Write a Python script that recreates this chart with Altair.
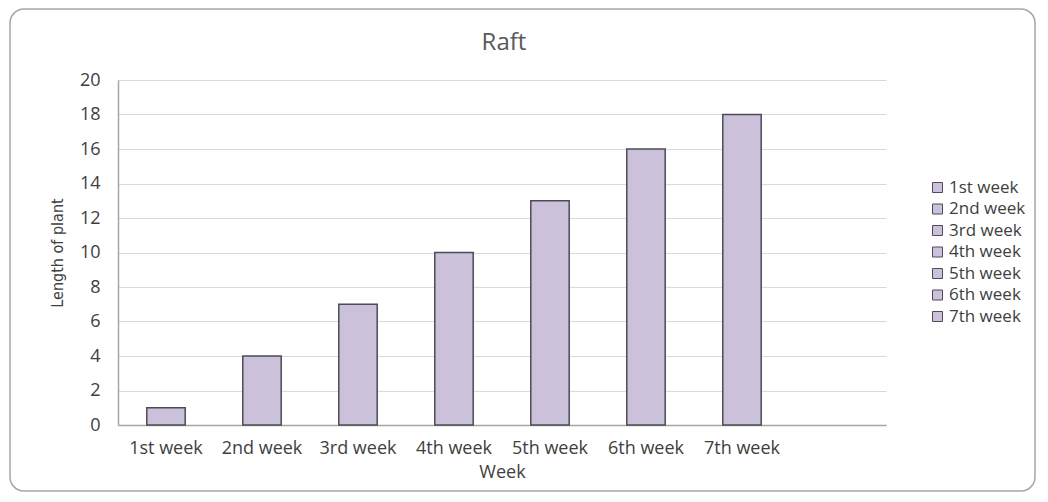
import altair as alt
import pandas as pd

weeks = ["1st week", "2nd week", "3rd week", "4th week", "5th week", "6th week", "7th week"]
lengths = [1, 4, 7, 10, 13, 16, 18]
x_domain = weeks + [" "]
y_ticks = [0, 2, 4, 6, 8, 10, 12, 14, 16, 18, 20]
chart_title = "Raft"

df = pd.DataFrame({"Week": weeks, "Length": lengths})

FONT = "Open Sans"
NARROW = "Liberation Sans Narrow, DejaVu Sans Condensed, Roboto Condensed, Roboto, sans-serif"
BAR_FILL = "#ccc1da"
BAR_STROKE = "#4b4b58"

frame = alt.Chart(alt.Data(values=[{}])).mark_rect(
    fill="white", fillOpacity=0, stroke="#a6a6a6", strokeWidth=1.5, cornerRadius=14
).encode(
    x=alt.value(-108), x2=alt.value(917), y=alt.value(-71), y2=alt.value(411)
)

title = alt.Chart(alt.Data(values=[{"t": chart_title}])).mark_text(
    font=FONT, fontSize=24, color="#595959", align="center", baseline="alphabetic"
).encode(
    text="t:N", x=alt.value(386), y=alt.value(-30)
)

bars = alt.Chart(df).mark_bar(stroke=BAR_STROKE, strokeWidth=1.5).encode(
    x=alt.X("Week:N", sort=x_domain,
            scale=alt.Scale(domain=x_domain, paddingInner=0.6, paddingOuter=0.3),
            axis=alt.Axis(title="Week", labelAngle=0, ticks=False, grid=False,
                          labelExpr="datum.value == ' ' ? '' : datum.label",
                          labelPadding=14, titlePadding=6)),
    y=alt.Y("Length:Q", scale=alt.Scale(domain=[0, 20], nice=False),
            axis=alt.Axis(title="Length of plant", values=y_ticks, ticks=False,
                          labelPadding=18, titlePadding=14,
                          titleFont=NARROW, titleFontSize=16,
                          titleFontWeight="normal")),
    color=alt.Color("Week:N", sort=weeks,
                    scale=alt.Scale(domain=weeks, range=[BAR_FILL] * 7),
                    legend=alt.Legend(title=None, orient="none", legendX=811, legendY=99,
                                      symbolType="square", symbolSize=100,
                                      symbolStrokeColor=BAR_STROKE, symbolStrokeWidth=1,
                                      symbolFillColor=BAR_FILL,
                                      labelFont=FONT, labelFontSize=17, labelColor="#404040",
                                      rowPadding=3.5, labelOffset=3, padding=0)),
)

chart = alt.layer(frame, bars, title).properties(
    width=768, height=345,
    padding={"left": 110, "top": 72, "right": 154, "bottom": 69},
    autosize="none",
).configure_view(stroke=None).configure_axis(
    labelFont=FONT, labelFontSize=18, labelColor="#404040",
    titleFont=FONT, titleFontSize=18, titleColor="#404040", titleFontWeight="normal",
    domainColor="#a6a6a6", domainWidth=1.5,
    gridColor="#d9d9d9", gridWidth=1.2,
)

chart.save("out.html", embed_options={"renderer": "svg", "actions": False})
